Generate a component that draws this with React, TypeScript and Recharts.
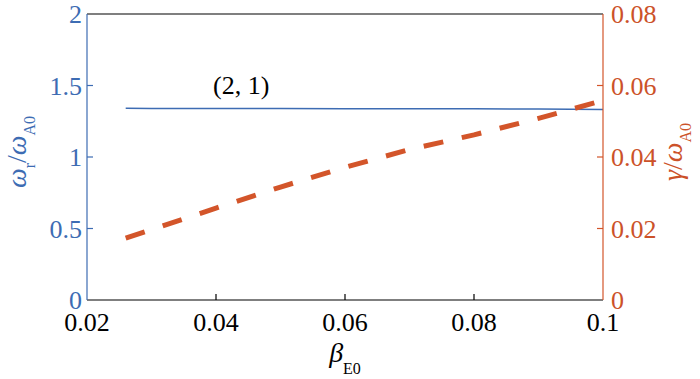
import React from "react";
import {
  ComposedChart,
  Line,
  XAxis,
  YAxis,
  ReferenceLine,
  ReferenceDot,
} from "recharts";

const betaE0 = [0.026, 0.03, 0.04, 0.05, 0.06, 0.07, 0.08, 0.09, 0.1];
const omegaR = [1.341, 1.340, 1.340, 1.339, 1.338, 1.338, 1.337, 1.335, 1.333];
const gammaRate = [0.0173, 0.0197, 0.0257, 0.0316, 0.0371, 0.0421, 0.0462, 0.0508, 0.0558];

const xTicks = [0.02, 0.04, 0.06, 0.08, 0.1];
const leftTicks = [0, 0.5, 1, 1.5, 2];
const rightTicks = [0, 0.02, 0.04, 0.06, 0.08];
const modeLabel = "(2, 1)";

const BLUE = "#3d6cb3";
const ORANGE = "#d3552a";
const ORANGE_TEXT = "#cc5229";
const FONT = "'Liberation Serif', 'Times New Roman', serif";
const FS = 26;

const data = betaE0.map((b, i) => ({ beta: b, omega: omegaR[i], gamma: gammaRate[i] }));

const XTick = (props: any) => {
  const { x, y, payload, index } = props;
  const v = payload.value;
  const inner = v > 0.0201 && v < 0.0999;
  return (
    <g>
      {inner && <line x1={x} x2={x} y1={y} y2={y - 6} stroke="#000" strokeWidth={1.2} />}
      <text x={x} y={y + 31} textAnchor="middle" fontFamily={FONT} fontSize={FS} fill="#000">
        {String(v)}
      </text>
    </g>
  );
};

const LeftTick = (props: any) => {
  const { x, y, payload } = props;
  const v = payload.value;
  const inner = v > 0 && v < 2;
  return (
    <g>
      {inner && <line x1={x} x2={x + 6} y1={y} y2={y} stroke={BLUE} strokeWidth={1.2} />}
      <text x={x - 5} y={y + 9} textAnchor="end" fontFamily={FONT} fontSize={FS} fill={BLUE}>
        {String(v)}
      </text>
    </g>
  );
};

const RightTick = (props: any) => {
  const { x, y, payload } = props;
  const v = payload.value;
  const inner = v > 0 && v < 0.08;
  return (
    <g>
      {inner && <line x1={x} x2={x - 6} y1={y} y2={y} stroke={ORANGE} strokeWidth={1.2} />}
      <text x={x + 8} y={y + 9} textAnchor="start" fontFamily={FONT} fontSize={FS} fill={ORANGE_TEXT}>
        {String(v)}
      </text>
    </g>
  );
};

const LeftLabel = (props: any) => {
  const vb = props.viewBox || { x: 0, y: 14, width: 87, height: 286 };
  const cx = vb.x + 26;
  const cy = vb.y + vb.height / 2 - 5;
  return (
    <text transform={`translate(${cx},${cy}) rotate(-90)`} textAnchor="middle" fontFamily={FONT} fill={BLUE}>
      <tspan fontStyle="italic" fontSize={28}>ω</tspan>
      <tspan fontSize={16} dy={9}>r</tspan>
      <tspan fontSize={28} dy={-9}>/</tspan>
      <tspan fontStyle="italic" fontSize={28}>ω</tspan>
      <tspan fontSize={16} dy={9}>A0</tspan>
    </text>
  );
};

const RightLabel = (props: any) => {
  const vb = props.viewBox || { x: 603, y: 14, width: 97, height: 286 };
  const cx = vb.x + 79;
  const cy = vb.y + vb.height / 2 - 5;
  return (
    <text transform={`translate(${cx},${cy}) rotate(-90)`} textAnchor="middle" fontFamily={FONT} fill={ORANGE_TEXT}>
      <tspan fontStyle="italic" fontSize={28}>γ</tspan>
      <tspan fontSize={28}>/</tspan>
      <tspan fontStyle="italic" fontSize={28}>ω</tspan>
      <tspan fontSize={16} dy={9}>A0</tspan>
    </text>
  );
};

const XLabel = (props: any) => {
  const vb = props.viewBox || { x: 87, y: 300, width: 516, height: 79 };
  const cx = vb.x + vb.width / 2;
  return (
    <text x={cx} y={vb.y + 62} textAnchor="middle" fontFamily={FONT} fill="#000">
      <tspan fontStyle="italic" fontSize={28}>β</tspan>
      <tspan fontSize={16} dy={12}>E0</tspan>
    </text>
  );
};

export default function App() {
  return (
    <div style={{ position: "absolute", left: 0, top: 0, width: 700, height: 379, background: "#fff" }}>
      <ComposedChart width={700} height={379} data={data} margin={{ top: 14, right: 0, bottom: 0, left: 0 }}>
        <XAxis
          dataKey="beta"
          type="number"
          domain={[0.02, 0.1]}
          ticks={xTicks}
          interval={0}
          height={79}
          tickSize={0}
          tickMargin={0}
          tick={<XTick />}
          stroke="#000"
          strokeWidth={1.2}
          allowDataOverflow
          label={<XLabel />}
        />
        <YAxis
          yAxisId="left"
          orientation="left"
          domain={[0, 2]}
          ticks={leftTicks}
          interval={0}
          width={87}
          tickSize={0}
          tickMargin={0}
          tick={<LeftTick />}
          stroke={BLUE}
          strokeWidth={1.2}
          allowDataOverflow
          label={<LeftLabel />}
        />
        <YAxis
          yAxisId="right"
          orientation="right"
          domain={[0, 0.08]}
          ticks={rightTicks}
          interval={0}
          width={97}
          tickSize={0}
          tickMargin={0}
          tick={<RightTick />}
          stroke={ORANGE}
          strokeWidth={1.2}
          allowDataOverflow
          label={<RightLabel />}
        />
        <ReferenceLine yAxisId="left" y={2} stroke="#000" strokeWidth={1.2} />
        <Line
          yAxisId="left"
          dataKey="omega"
          type="linear"
          stroke={BLUE}
          strokeWidth={1.5}
          dot={false}
          isAnimationActive={false}
        />
        <Line
          yAxisId="right"
          dataKey="gamma"
          type="linear"
          stroke={ORANGE}
          strokeWidth={5}
          strokeDasharray="20 19"
          dot={false}
          isAnimationActive={false}
        />
        <ReferenceDot
          yAxisId="left"
          x={0.0439}
          y={1.505}
          r={0}
          fill="none"
          stroke="none"
          label={{ value: modeLabel, position: "center", fontFamily: FONT, fontSize: FS, fill: "#000" }}
        />
      </ComposedChart>
    </div>
  );
}
